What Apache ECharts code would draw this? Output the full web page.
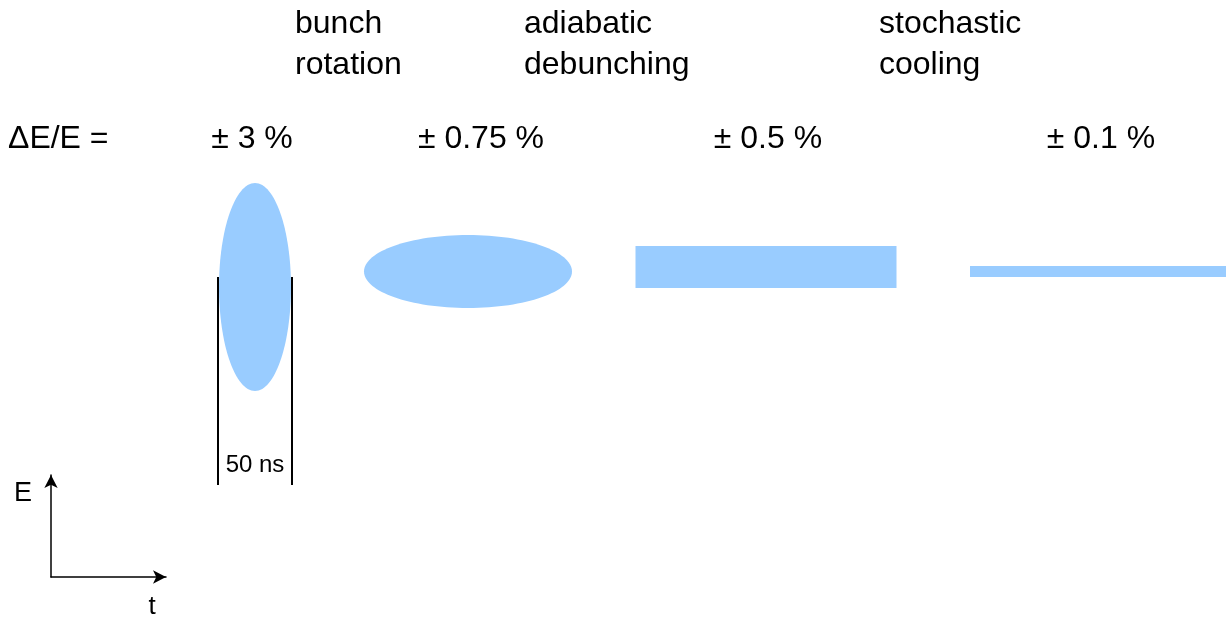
<!DOCTYPE html>
<html>
<head>
<meta charset="utf-8">
<script src="https://cdn.jsdelivr.net/npm/echarts@6/dist/echarts.min.js"></script>
<style>
  html, body { margin: 0; padding: 0; background: #fff; }
  #main { width: 1226px; height: 620px; }
</style>
</head>
<body>
<div id="main"></div>
<script>
// bunch phase-space shapes (time axis t, energy axis E, in diagram units)
var bunchT = [255, 468, 766, 1100];
var bunchE = [287, 271.5, 267, 271.5];
var bunchHalfT = [36, 104, 130.5, 130];
var bunchHalfE = [104, 36.5, 21, 5.5];
var bunchShape = ['ellipse', 'ellipse', 'rect', 'rect'];

// energy spread per stage
var spreadLabels = ['± 3 %', '± 0.75 %', '± 0.5 %', '± 0.1 %'];
var spreadT = [252, 481, 768, 1101];

// process steps between the stages
var stepLabels = ['bunch\nrotation', 'adiabatic\ndebunching', 'stochastic\ncooling'];
var stepT = [295, 524, 879];

// bunch length marker
var markerEdges = [218, 292];
var markerLabel = '50 ns';

var FONT = 'Liberation Sans, Arial, sans-serif';
var BLUE = '#99ccff';

var chart = echarts.init(document.getElementById('main'));

var option = {
    animation: false,
    backgroundColor: '#fff',
    grid: [
        {left: 0, right: 0, top: 0, bottom: 0},
        {left: 51, top: 475, width: 115, bottom: 41}   // small E / t axes
    ],
    xAxis: [
        {type: 'value', min: 0, max: 1226, show: false, gridIndex: 0},
        {
            type: 'value', gridIndex: 1, min: 0, max: 1,
            splitLine: {show: false}, axisTick: {show: false}, axisLabel: {show: false},
            axisLine: {show: true, onZero: false, symbol: ['none', 'arrow'], symbolSize: [10, 13],
                lineStyle: {color: '#000', width: 1.5}},
            name: 't', nameLocation: 'end', nameGap: -14,
            nameTextStyle: {fontFamily: FONT, fontSize: 26, color: '#000', align: 'center',
                verticalAlign: 'top', padding: [17, 0, 0, 0]}
        }
    ],
    yAxis: [
        {type: 'value', min: 0, max: 620, inverse: true, show: false, gridIndex: 0},
        {
            type: 'value', gridIndex: 1, min: 0, max: 1,
            splitLine: {show: false}, axisTick: {show: false}, axisLabel: {show: false},
            axisLine: {show: true, onZero: false, symbol: ['none', 'arrow'], symbolSize: [10, 13],
                lineStyle: {color: '#000', width: 1.5}},
            name: 'E', nameLocation: 'end', nameGap: -19,
            nameTextStyle: {fontFamily: FONT, fontSize: 27, color: '#000', align: 'right',
                verticalAlign: 'middle', padding: [0, 19, 0, 0]}
        }
    ],
    series: [
        {
            // bunches
            type: 'custom',
            xAxisIndex: 0, yAxisIndex: 0,
            data: bunchT.map(function (t, i) { return [t, bunchE[i], bunchHalfT[i], bunchHalfE[i], i]; }),
            renderItem: function (params, api) {
                var c = api.coord([api.value(0), api.value(1)]);
                var s = api.size([api.value(2), api.value(3)]);
                var i = api.value(4);
                if (bunchShape[i] === 'ellipse') {
                    return {type: 'ellipse', shape: {cx: c[0], cy: c[1], rx: s[0], ry: s[1]}, style: {fill: BLUE}};
                }
                return {type: 'rect', shape: {x: c[0] - s[0], y: c[1] - s[1], width: 2 * s[0], height: 2 * s[1]}, style: {fill: BLUE}};
            }
        },
        {
            // bunch length marker
            type: 'custom',
            xAxisIndex: 0, yAxisIndex: 0,
            data: [[markerEdges[0], markerEdges[1], 277, 485]],
            renderItem: function (params, api) {
                var a = api.coord([api.value(0), api.value(2)]);
                var b = api.coord([api.value(1), api.value(3)]);
                return {
                    type: 'group',
                    children: [
                        {type: 'line', shape: {x1: a[0], y1: a[1], x2: a[0], y2: b[1]}, style: {stroke: '#000', lineWidth: 2}},
                        {type: 'line', shape: {x1: b[0], y1: a[1], x2: b[0], y2: b[1]}, style: {stroke: '#000', lineWidth: 2}},
                        {type: 'text', x: (a[0] + b[0]) / 2, y: b[1] - 20,
                            style: {text: markerLabel, font: '24px ' + FONT, fill: '#000', align: 'center', verticalAlign: 'middle'}}
                    ]
                };
            }
        },
        {
            // energy spread labels
            type: 'custom',
            xAxisIndex: 0, yAxisIndex: 0,
            data: [[8, 139, -1]].concat(spreadT.map(function (t, i) { return [t, 139, i]; })),
            renderItem: function (params, api) {
                var p = api.coord([api.value(0), api.value(1)]);
                var i = api.value(2);
                return {
                    type: 'text', x: p[0], y: p[1],
                    style: {text: i < 0 ? '\u0394E/E =' : spreadLabels[i], font: '32px ' + FONT, fill: '#000',
                        align: i < 0 ? 'left' : 'center', verticalAlign: 'middle'}
                };
            }
        },
        {
            // process step labels
            type: 'custom',
            xAxisIndex: 0, yAxisIndex: 0,
            data: stepT.map(function (t, i) { return [t, 4, i]; }),
            renderItem: function (params, api) {
                var p = api.coord([api.value(0), api.value(1)]);
                return {
                    type: 'text', x: p[0], y: p[1],
                    style: {text: stepLabels[api.value(2)], font: '32px ' + FONT, lineHeight: 41, fill: '#000',
                        align: 'left', verticalAlign: 'top'}
                };
            }
        }
    ]
};

chart.setOption(option);
</script>
</body>
</html>
